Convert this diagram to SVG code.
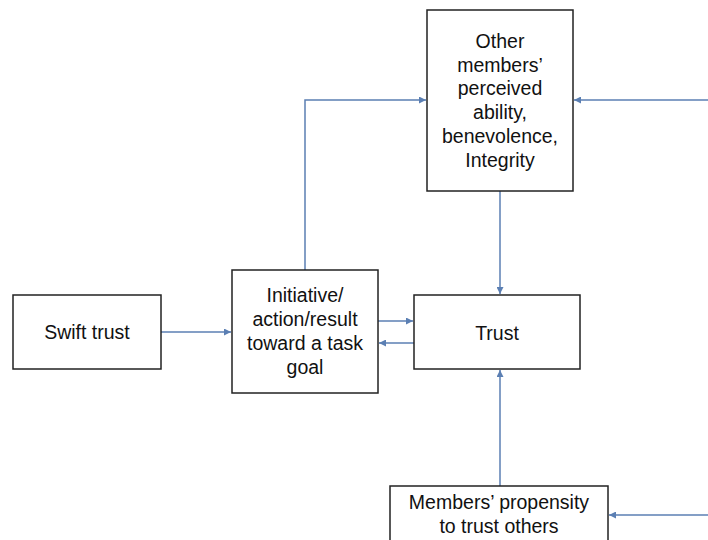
<svg xmlns="http://www.w3.org/2000/svg" width="708" height="540" viewBox="0 0 708 540">
<style>
.box{fill:#fff;stroke:#222;stroke-width:1.5}
.t{font-family:"Liberation Sans",Arial,sans-serif;font-size:19.5px;fill:#111;text-anchor:middle;dominant-baseline:central}
.c{fill:none;stroke:#5b7fb3;stroke-width:1.5}
</style>
<defs>
<marker id="ah" viewBox="0 0 10 10" refX="10" refY="5" markerWidth="7" markerHeight="7" markerUnits="userSpaceOnUse" orient="auto">
<path d="M0,0 L10,5 L0,10 z" fill="#5b7fb3"/>
</marker>
</defs>
<rect width="708" height="540" fill="#fff"/>
<g id="connectors">
<path class="c" d="M161,332 H231" marker-end="url(#ah)"/>
<path class="c" d="M305,270 V100 H426" marker-end="url(#ah)"/>
<path class="c" d="M708,100 H574" marker-end="url(#ah)"/>
<path class="c" d="M500,191 V294" marker-end="url(#ah)"/>
<path class="c" d="M378,321 H413" marker-end="url(#ah)"/>
<path class="c" d="M414,343 H379" marker-end="url(#ah)"/>
<path class="c" d="M500,486 V370" marker-end="url(#ah)"/>
<path class="c" d="M708,515 H609" marker-end="url(#ah)"/>
</g>
<g id="other">
<rect class="box" x="427" y="10" width="146" height="181"/>
<text class="t" x="500" y="41">Other</text>
<text class="t" x="500" y="65">members’</text>
<text class="t" x="500" y="88">perceived</text>
<text class="t" x="500" y="112">ability,</text>
<text class="t" x="500" y="136">benevolence,</text>
<text class="t" x="500" y="160">Integrity</text>
</g>
<g id="swift">
<rect class="box" x="13" y="295" width="148" height="74"/>
<text class="t" x="87" y="332">Swift trust</text>
</g>
<g id="initiative">
<rect class="box" x="232" y="270" width="146" height="123"/>
<text class="t" x="305" y="295">Initiative/</text>
<text class="t" x="305" y="319">action/result</text>
<text class="t" x="305" y="343">toward a task</text>
<text class="t" x="305" y="367">goal</text>
</g>
<g id="trust">
<rect class="box" x="414" y="295" width="166" height="74"/>
<text class="t" x="497" y="333">Trust</text>
</g>
<g id="members">
<rect class="box" x="390" y="486" width="218" height="70"/>
<text class="t" x="499" y="502">Members’ propensity</text>
<text class="t" x="499" y="526">to trust others</text>
</g>
</svg>
